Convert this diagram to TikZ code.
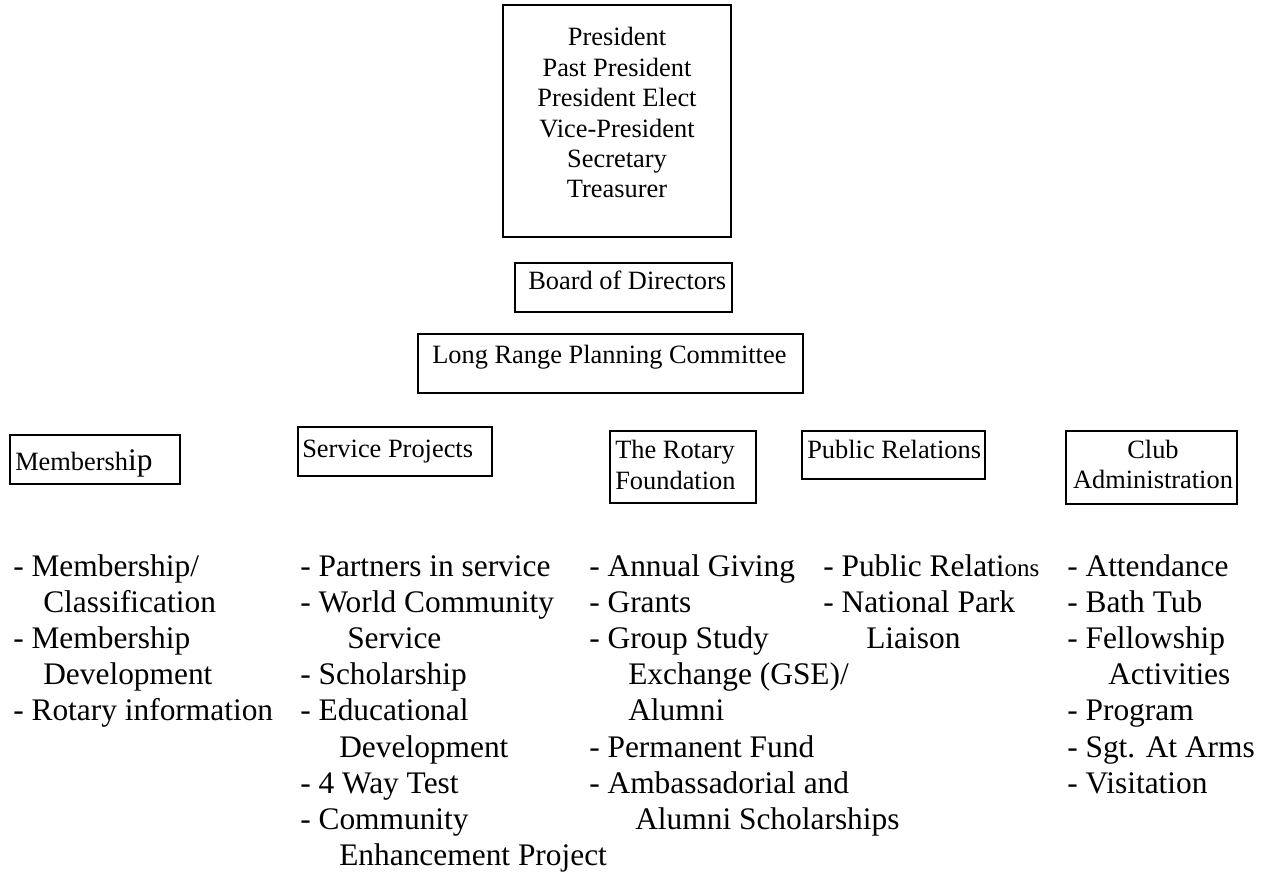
\documentclass[tikz,border=0pt]{standalone}
\usepackage{fontspec}
\setmainfont{Liberation Serif}
\usepackage{tikz}

\begin{document}
\begin{tikzpicture}[x=0.75pt,y=-0.75pt]
					\tikzstyle{box}=[rectangle,draw=black,line width=1.5pt,inner sep=0pt]
					\tikzstyle{boxtext}=[inner sep=0pt,font=\fontsize{19.8}{22.8}\selectfont]
					\tikzstyle{duties}=[inner sep=0pt,anchor=base west,align=left,font=\fontsize{23.55}{27.15}\selectfont]
					\useasboundingbox (0,0) rectangle (1267,877);
					% multi-line nodes sit on the baseline of their last line
					\node[box,line width=2pt,minimum width=171pt,minimum height=174pt] (officers) at (617,121) {};
					\node[boxtext,anchor=base,align=center] (officers-t) at (617,198) {President\\Past President\\President Elect\\Vice-President\\Secretary\\Treasurer};
					\node[box,minimum width=162.75pt,minimum height=36.75pt] (board) at (623.5,287.5) {};
					\node[boxtext,anchor=base west] (board-t) at (528,290) {Board of Directors};
					\node[box,minimum width=288.75pt,minimum height=44.25pt] (planning) at (610.5,363.5) {};
					\node[boxtext,anchor=base west] (planning-t) at (432,363) {Long Range Planning Committee};
					\node[box,minimum width=127.5pt,minimum height=36.75pt] (membership) at (95,459.5) {};
					\node[boxtext,anchor=base west] (membership-t) at (15,470) {Membersh{\fontsize{23.55}{27}\selectfont ip}};
					\node[box,minimum width=145.5pt,minimum height=36.75pt] (service) at (395,451.5) {};
					\node[boxtext,anchor=base west] (service-t) at (302,457) {Service Projects};
					\node[box,minimum width=109.5pt,minimum height=54pt] (foundation) at (683,467) {};
					\node[boxtext,anchor=base west,align=left,font=\fontsize{19.8}{23.25}\selectfont] (foundation-t) at (615,489) {The Rotary\\Foundation};
					\node[box,minimum width=137.25pt,minimum height=36pt] (publicrel) at (893.5,455) {};
					\node[boxtext,anchor=base west] (publicrel-t) at (807,458) {Public Relations};
					\node[box,minimum width=128.25pt,minimum height=54.75pt] (clubadmin) at (1151.5,467.5) {};
					\node[boxtext,anchor=base,align=center,font=\fontsize{19.8}{22.5}\selectfont] (clubadmin-t) at (1153,488) {Club\\Administration};
					\node[duties] (membership-d) at (13,720.8) {- Membership/\\
						\hspace*{22.5pt}Classification\\
						- Membership\\
						\hspace*{22.5pt}Development\\
						- Rotary information};
					\node[duties] (service-d) at (300,865.6) {- Partners in service\\
						- World Community\\
						\hspace*{35.25pt}Service\\
						- Scholarship\\
						- Educational\\
						\hspace*{29.25pt}Development\\
						- 4 Way Test\\
						- Community\\
						\hspace*{29.25pt}Enhancement Project};
					\node[duties] (foundation-d) at (589,829.4) {- Annual Giving\\
						- Grants\\
						- Group Study\\
						\hspace*{29.25pt}Exchange (GSE)/\\
						\hspace*{29.25pt}Alumni\\
						- Permanent Fund\\
						- Ambassadorial and\\
						\hspace*{34.5pt}Alumni Scholarships};
					\node[duties] (publicrel-d) at (823,648.4) {- Public Relati{\fontsize{18.8}{27.15}\selectfont ons}\\
						- National Park\\
						\hspace*{32.25pt}Liaison};
					\node[duties] (clubadmin-d) at (1067,793.2) {- Attendance\\
						- Bath Tub\\
						- Fellowship\\
						\hspace*{30.75pt}Activities\\
						- Program\\
						- Sgt. At Arms\\
						- Visitation};
\end{tikzpicture}
\end{document}
